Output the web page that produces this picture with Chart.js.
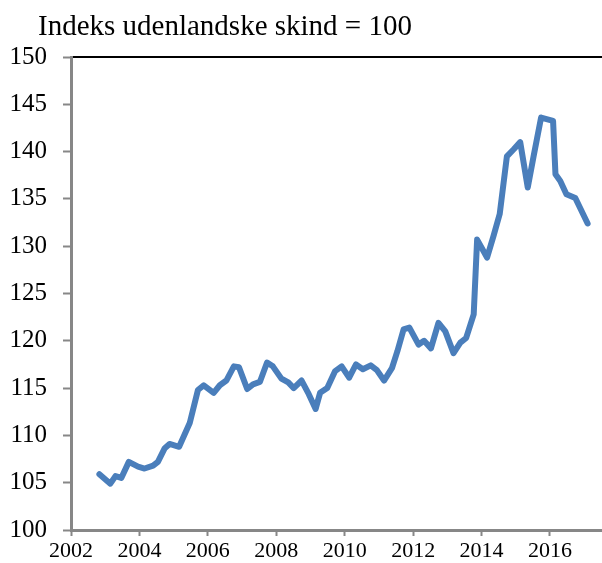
<!DOCTYPE html>
<html>
<head>
<meta charset="utf-8">
<script src="https://cdn.jsdelivr.net/npm/chart.js@4/dist/chart.umd.min.js"></script>
<style>
    html, body { margin: 0; padding: 0; background: #fff; overflow: hidden; }
    #wrap { width: 602px; height: 563px; position: relative; }
</style>
</head>
<body>
<div id="wrap"><canvas id="skindChart"></canvas></div>
<script>
// ===== DATI =====
const titleText = 'Indeks udenlandske skind = 100';

// tidspunkter (decimalår) for linjens knækpunkter
const dates = [
    2002.83, 2003.15, 2003.30, 2003.47, 2003.69, 2003.96, 2004.15, 2004.40, 2004.54, 2004.74,
    2004.88, 2005.16, 2005.47, 2005.71, 2005.88, 2006.17, 2006.35, 2006.54, 2006.76, 2006.91,
    2007.15, 2007.32, 2007.52, 2007.73, 2007.90, 2008.15, 2008.35, 2008.51, 2008.74, 2008.93,
    2009.15, 2009.28, 2009.49, 2009.72, 2009.91, 2010.13, 2010.33, 2010.53, 2010.76, 2010.94,
    2011.15, 2011.38, 2011.54, 2011.72, 2011.89, 2012.16, 2012.32, 2012.52, 2012.74, 2012.94,
    2013.18, 2013.38, 2013.55, 2013.77, 2013.87, 2014.16, 2014.35, 2014.53, 2014.74, 2014.94,
    2015.13, 2015.35, 2015.52, 2015.74, 2016.09, 2016.16, 2016.30, 2016.48, 2016.74, 2017.10
];

const indeks = [
    105.9, 104.9, 105.7, 105.5, 107.2, 106.7, 106.5, 106.8, 107.2, 108.65,
    109.1, 108.8, 111.3, 114.8, 115.3, 114.5, 115.3, 115.8, 117.3, 117.2,
    114.9, 115.4, 115.65, 117.7, 117.3, 116.0, 115.6, 115.0, 115.8, 114.5,
    112.8, 114.5, 115.0, 116.8, 117.3, 116.1, 117.5, 117.0, 117.4, 116.9,
    115.8, 117.1, 118.9, 121.2, 121.4, 119.6, 120.0, 119.2, 121.9, 121.0,
    118.7, 119.8, 120.3, 122.8, 130.7, 128.8, 131.1, 133.4, 139.5, 140.25,
    141.0, 136.2, 139.5, 143.6, 143.25, 137.6, 136.9, 135.5, 135.1, 132.4
];

const xTickYears = [2002, 2004, 2006, 2008, 2010, 2012, 2014, 2016];
const yTickValues = [100, 105, 110, 115, 120, 125, 130, 135, 140, 145, 150];

// ===== STILE =====
const serif = '"Liberation Serif", "Times New Roman", serif';
const axisGrey = '#878787';

// Titolo in alto a sinistra (spostato rispetto all'area del grafico)
const titlePlugin = {
    id: 'leftTitle',
    afterDraw(chart) {
        const c = chart.ctx;
        c.save();
        c.fillStyle = '#000';
        c.font = '29px ' + serif;
        c.textAlign = 'left';
        c.textBaseline = 'alphabetic';
        c.fillText(titleText, 38, 35);
        c.restore();
    }
};

const ctx = document.getElementById('skindChart');

new Chart(ctx, {
    type: 'line',
    data: {
        datasets: [{
            label: titleText,
            data: dates.map((d, i) => ({ x: d, y: indeks[i] })),
            borderColor: '#4a7ebb',
            backgroundColor: '#4a7ebb',
            borderWidth: 6,
            borderJoinStyle: 'round',
            borderCapStyle: 'round',
            tension: 0,
            pointRadius: 0,
            fill: false
        }]
    },
    plugins: [titlePlugin],
    options: {
        responsive: true,
        maintainAspectRatio: false,
        animation: false,
        layout: {
            padding: { left: 0, right: 0, top: 57, bottom: 0 }
        },
        plugins: {
            legend: { display: false },
            tooltip: { enabled: false },
            title: { display: false }
        },
        scales: {
            x: {
                type: 'linear',
                position: 'bottom',
                min: 2002,
                max: 2017.52,
                afterBuildTicks: scale => {
                    scale.ticks = xTickYears.map(v => ({ value: v }));
                },
                afterFit: scale => { scale.height = 33; },
                ticks: {
                    color: '#000',
                    font: { family: serif, size: 22 },
                    padding: 2,
                    maxRotation: 0,
                    callback: v => String(v)
                },
                grid: {
                    drawOnChartArea: false,
                    drawTicks: true,
                    tickLength: 6,
                    tickWidth: 2,
                    tickColor: axisGrey
                },
                border: { display: true, color: axisGrey, width: 3 }
            },
            xTop: {
                type: 'linear',
                position: 'top',
                min: 2002,
                max: 2017.52,
                ticks: { display: false },
                grid: { display: false, drawTicks: false },
                border: { display: true, color: '#000', width: 2 }
            },
            y: {
                min: 100,
                max: 150,
                afterBuildTicks: scale => {
                    scale.ticks = yTickValues.map(v => ({ value: v }));
                },
                afterFit: scale => { scale.width = 71; },
                ticks: {
                    color: '#000',
                    font: { family: serif, size: 25 },
                    padding: 16
                },
                grid: {
                    drawOnChartArea: false,
                    drawTicks: true,
                    tickLength: 8,
                    tickWidth: 2,
                    tickColor: axisGrey
                },
                border: { display: true, color: axisGrey, width: 3 }
            }
        }
    }
});
</script>
</body>
</html>
